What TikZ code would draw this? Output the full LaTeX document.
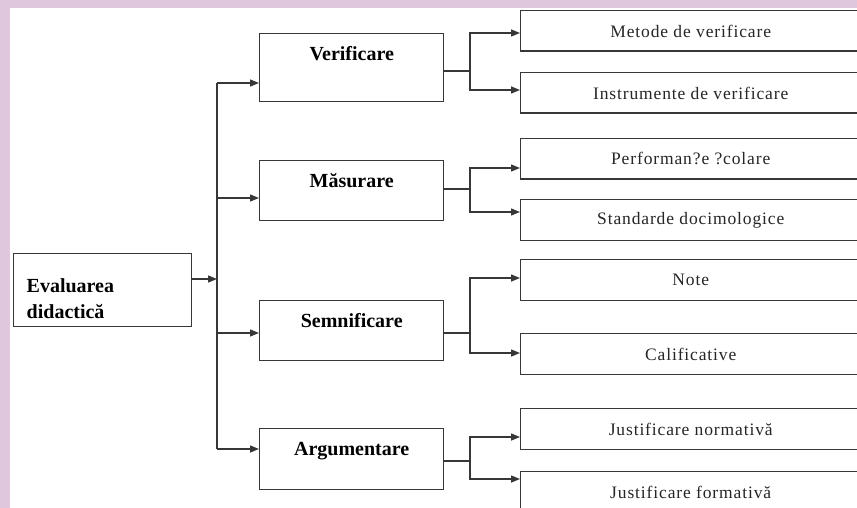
\documentclass[tikz,border=0pt]{standalone}
\usepackage{fontspec}
\setmainfont{Liberation Serif}
\newfontfamily\childfont[LetterSpace=5]{Liberation Serif}
\usetikzlibrary{arrows.meta}
\definecolor{lilac}{RGB}{223,200,221}
\definecolor{ln}{RGB}{55,55,55}
\begin{document}
\begin{tikzpicture}[x=1pt,y=-1pt,
  box/.style={draw=ln, line width=1.4pt, rectangle, inner sep=0pt, anchor=north west},
  parent/.style={box, minimum width=184pt, font=\fontsize{20}{24}\selectfont\bfseries, text height=27pt},
  child/.style={box, minimum width=340pt, minimum height=40.5pt, font=\childfont\fontsize{17.5}{21}\selectfont, text=black!85},
  conn/.style={draw=ln, line width=1.4pt},
  arr/.style={conn, -{Triangle[length=9pt,width=7pt]}}]
\useasboundingbox (0,0) rectangle (857,508);
\clip (0,0) rectangle (857,508);
\fill[lilac] (0,0) rectangle (857,508);
\fill[white] (10,8) rectangle (857,508);

% root
\node[box, minimum width=178pt, minimum height=73pt, align=left, text width=152pt,
      font=\fontsize{20}{26}\selectfont\bfseries, text depth=10pt] (E) at (13,253)
      {Evaluarea\\didactică};

% parents
\node[parent, text depth=41pt] (V) at (259,33) {Verificare};
\node[parent, text depth=33pt] (M) at (259,160) {Măsurare};
\node[parent, text depth=33pt] (S) at (259,300) {Semnificare};
\node[parent, text depth=34pt] (A) at (259,428) {Argumentare};

% children
\node[child] (c1) at (520,10)  {Metode de verificare};
\node[child] (c2) at (520,72)  {Instrumente de verificare};
\node[child] (c3) at (520,138) {Performan?e ?colare};
\node[child] (c4) at (520,199) {Standarde docimologice};
\node[child] (c5) at (520,259) {Note};
\node[child] (c6) at (520,333) {Calificative};
\node[child] (c7) at (520,408) {Justificare normativă};
\node[child] (c8) at (520,471) {Justificare formativă};

% trunk
\coordinate (tE) at (217,279);
\coordinate (tV) at (217,83);
\coordinate (tM) at (217,198);
\coordinate (tS) at (217,333);
\coordinate (tA) at (217,449);
\draw[arr] (E.east |- tE) -- (tE);
\draw[conn] (tV) -- (tA);
\draw[arr] (tV) -- (V.west |- tV);
\draw[arr] (tM) -- (M.west |- tM);
\draw[arr] (tS) -- (S.west |- tS);
\draw[arr] (tA) -- (A.west |- tA);

% branches
\coordinate (bV) at (470,71);  \coordinate (aV1) at (470,33);  \coordinate (aV2) at (470,90);
\coordinate (bM) at (470,189); \coordinate (aM1) at (470,168); \coordinate (aM2) at (470,212);
\coordinate (bS) at (470,333); \coordinate (aS1) at (470,278); \coordinate (aS2) at (470,353);
\coordinate (bA) at (470,461); \coordinate (aA1) at (470,437); \coordinate (aA2) at (470,479);

\draw[conn] (V.east |- bV) -- (bV);
\draw[arr] (bV) -- (aV1) -- (c1.west |- aV1);
\draw[arr] (bV) -- (aV2) -- (c2.west |- aV2);

\draw[conn] (M.east |- bM) -- (bM);
\draw[arr] (bM) -- (aM1) -- (c3.west |- aM1);
\draw[arr] (bM) -- (aM2) -- (c4.west |- aM2);

\draw[conn] (S.east |- bS) -- (bS);
\draw[arr] (bS) -- (aS1) -- (c5.west |- aS1);
\draw[arr] (bS) -- (aS2) -- (c6.west |- aS2);

\draw[conn] (A.east |- bA) -- (bA);
\draw[arr] (bA) -- (aA1) -- (c7.west |- aA1);
\draw[arr] (bA) -- (aA2) -- (c8.west |- aA2);
\end{tikzpicture}
\end{document}
